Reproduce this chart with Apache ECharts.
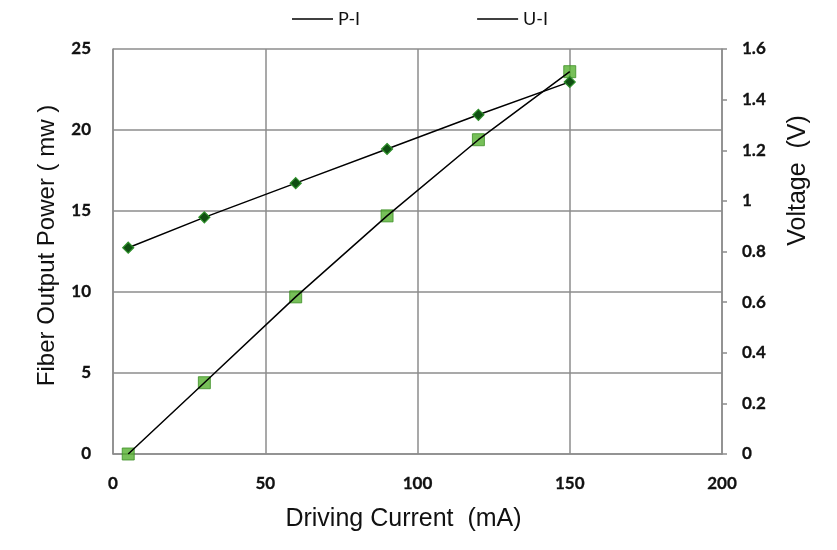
<!DOCTYPE html>
<html>
<head>
<meta charset="utf-8">
<script src="https://cdn.jsdelivr.net/npm/echarts@6/dist/echarts.min.js"></script>
<style>
html,body{margin:0;padding:0;background:#fff;}
#chart{width:837px;height:550px;}
</style>
</head>
<body>
<div id="chart"></div>
<script>
// Data
const current = [5, 30, 60, 90, 120, 150];               // Driving current (mA)
const power = [0, 4.4, 9.7, 14.7, 19.4, 23.6];           // Fiber output power (mw)
const voltage = [0.815, 0.935, 1.07, 1.205, 1.34, 1.47]; // Voltage (V)
const xTicks = [0, 50, 100, 150, 200];
const leftTicks = [0, 5, 10, 15, 20, 25];
const rightTicks = [0, 0.2, 0.4, 0.6, 0.8, 1, 1.2, 1.4, 1.6];

const pts = (xs, ys) => xs.map((x, i) => [x, ys[i]]);

const chart = echarts.init(document.getElementById('chart'));
const tickFont = {fontFamily: 'Lato', fontWeight: 'bold', fontSize: 17, color: '#111',
  textBorderColor: '#111', textBorderWidth: 0.3};
const nameFont = {fontFamily: 'Liberation Sans', fontSize: 24, color: '#111'};
const gray = '#8c8c8c';

chart.setOption({
  animation: false,
  backgroundColor: '#fff',
  grid: {left: 113, right: 115, top: 49, bottom: 96, containLabel: false},
  legend: {
    data: ['P-I', 'U-I'],
    top: 5,
    left: 287,
    itemGap: 117,
    itemWidth: 41,
    itemHeight: 1.5,
    icon: 'rect',
    itemStyle: {color: '#000', borderWidth: 0},
    textStyle: {fontFamily: 'Lato', fontSize: 18, color: '#111'}
  },
  xAxis: {
    type: 'value',
    min: xTicks[0], max: xTicks[xTicks.length - 1], interval: 50,
    name: 'Driving Current  (mA)',
    nameLocation: 'middle',
    nameGap: 53,
    nameTextStyle: Object.assign({}, nameFont, {fontSize: 25, padding: [0, 28, 0, 0]}),
    axisLine: {show: true, lineStyle: {color: gray, width: 1.5}},
    axisTick: {show: false},
    axisLabel: Object.assign({margin: 21}, tickFont),
    splitLine: {show: true, lineStyle: {color: gray, width: 1.5}}
  },
  yAxis: [
    {
      type: 'value',
      min: leftTicks[0], max: leftTicks[leftTicks.length - 1], interval: 5,
      name: 'Fiber Output Power ( mw )',
      nameLocation: 'middle',
      nameGap: 54,
      nameTextStyle: Object.assign({}, nameFont, {padding: [0, 0, 0, 12]}),
      axisLine: {show: true, lineStyle: {color: gray, width: 1.5}},
      axisTick: {show: false},
      axisLabel: Object.assign({margin: 22}, tickFont),
      splitLine: {show: true, lineStyle: {color: gray, width: 1.5}}
    },
    {
      type: 'value',
      position: 'right',
      min: rightTicks[0], max: rightTicks[rightTicks.length - 1], interval: 0.2,
      name: 'Voltage  (V)',
      nameLocation: 'middle',
      nameGap: 64,
      nameTextStyle: Object.assign({}, nameFont, {fontSize: 25, padding: [0, 0, 0, 142]}),
      axisLine: {show: true, lineStyle: {color: gray, width: 1.5}},
      axisTick: {show: true, inside: false, length: 5, lineStyle: {color: gray, width: 1.5}},
      axisLabel: Object.assign({margin: 20, formatter: v => String(Math.round(v * 10) / 10)}, tickFont),
      splitLine: {show: false}
    }
  ],
  series: [
    {
      name: 'P-I points',
      type: 'scatter',
      yAxisIndex: 0,
      symbol: 'rect',
      symbolSize: 12,
      itemStyle: {color: '#55b030', borderColor: '#3d8f26', borderWidth: 1},
      data: pts(current, power),
      z: 2
    },
    {
      name: 'P-I',
      type: 'line',
      yAxisIndex: 0,
      showSymbol: false,
      symbol: 'none',
      lineStyle: {color: '#000', width: 1.5},
      itemStyle: {color: '#000'},
      data: pts(current, power),
      z: 3
    },
    {
      name: 'U-I',
      type: 'line',
      yAxisIndex: 1,
      symbol: 'diamond',
      symbolSize: 11,
      lineStyle: {color: '#000', width: 1.5},
      itemStyle: {color: '#0f4f12', borderColor: '#2e8f2a', borderWidth: 1.2},
      data: pts(current, voltage),
      z: 3
    }
  ]
});
</script>
</body>
</html>
